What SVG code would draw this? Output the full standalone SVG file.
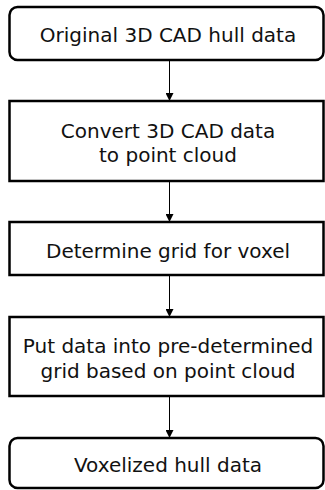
<svg xmlns="http://www.w3.org/2000/svg" width="325" height="490" viewBox="0 0 325 490">
  <defs>
    <marker id="arrow" markerWidth="8" markerHeight="8" refX="7" refY="4" orient="auto" markerUnits="userSpaceOnUse">
      <path d="M0,0 L8,4 L0,8 Z" fill="#000"/>
    </marker>
  </defs>
  <style>
    .box { fill: #fff; stroke: #000; stroke-width: 2.5; }
    .lbl { font-family: "DejaVu Sans", "Noto Sans", sans-serif; font-size: 20px; fill: #111; text-anchor: middle; }
    .conn { stroke: #000; stroke-width: 1; fill: none; }
  </style>
  <rect width="325" height="490" fill="#fff"/>

  <g id="connectors">
    <line class="conn" x1="169.5" y1="61" x2="169.5" y2="100" marker-end="url(#arrow)"/>
    <line class="conn" x1="169.5" y1="182" x2="169.5" y2="221" marker-end="url(#arrow)"/>
    <line class="conn" x1="169.5" y1="276" x2="169.5" y2="316" marker-end="url(#arrow)"/>
    <line class="conn" x1="169.5" y1="397" x2="169.5" y2="437" marker-end="url(#arrow)"/>
  </g>

  <g id="n1">
    <rect class="box" x="9.5" y="7" width="314" height="53" rx="8"/>
    <text class="lbl" x="168" y="41.5">Original 3D CAD hull data</text>
  </g>
  <g id="n2">
    <rect class="box" x="9.5" y="101" width="314" height="80"/>
    <text class="lbl" x="168" y="138">Convert 3D CAD data<tspan x="168" dy="24">to point cloud</tspan></text>
  </g>
  <g id="n3">
    <rect class="box" x="9.5" y="222" width="314" height="53"/>
    <text class="lbl" x="168" y="258">Determine grid for voxel</text>
  </g>
  <g id="n4">
    <rect class="box" x="9.5" y="317" width="314" height="79"/>
    <text class="lbl" x="168" y="353">Put data into pre-determined<tspan x="168" dy="25">grid based on point cloud</tspan></text>
  </g>
  <g id="n5">
    <rect class="box" x="9.5" y="438" width="314" height="50" rx="8"/>
    <text class="lbl" x="168" y="471.5">Voxelized hull data</text>
  </g>
</svg>
